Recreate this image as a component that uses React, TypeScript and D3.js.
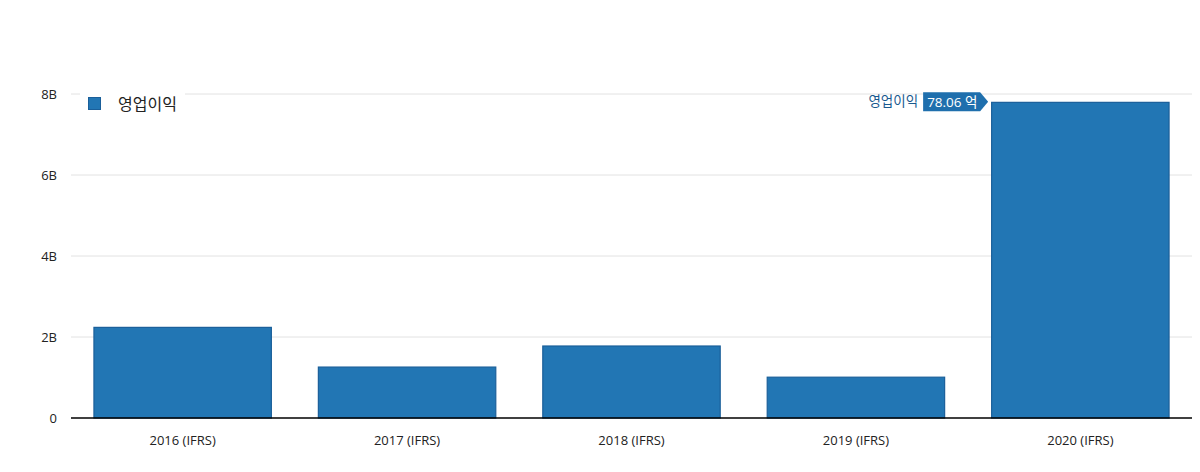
import React from "react";
import * as d3 from "d3";

const categories = ["2016 (IFRS)", "2017 (IFRS)", "2018 (IFRS)", "2019 (IFRS)", "2020 (IFRS)"];
const values = [2.25e9, 1.27e9, 1.79e9, 1.02e9, 7.806e9];
const yTicks = [0, 2e9, 4e9, 6e9, 8e9];
const yTickLabels = ["0", "2B", "4B", "6B", "8B"];
const seriesName = "영업이익";
const tooltipValue = "78.06 억";

const W = 1200, H = 472;
const m = { left: 71, right: 8, top: 94, bottom: 54 };
const font = "'Open Sans', 'Noto Sans CJK KR', sans-serif";

export default function App() {
  const x = d3.scaleBand<string>().domain(categories).range([m.left, W - m.right]).paddingInner(0.205).paddingOuter(0.1);
  const y = d3.scaleLinear().domain([0, 8e9]).range([H - m.bottom, m.top]);
  const last = categories.length - 1;
  const lx = x(categories[last])!;
  const ly = y(values[last]);
  return (
    <svg width={W} height={H} style={{ position: "absolute", left: 0, top: 0, background: "#fff" }}>
      {yTicks.map((t, i) => (
        <g key={t}>
          {t !== 0 && <line x1={m.left} x2={W - m.right} y1={y(t)} y2={y(t)} stroke="#e2e2e2" strokeWidth={1} />}
          <text x={57} y={y(t) + 4.5} textAnchor="end" fontFamily={font} fontSize={13} fill="#222">{yTickLabels[i]}</text>
        </g>
      ))}
      {/* legend */}
      <rect x={80} y={88} width={105} height={30} fill="#fff" />
      <rect x={88.5} y={97.5} width={12} height={12} fill="#2276b4" stroke="#1a5f9a" />
      <text x={118} y={109.5} fontFamily={font} fontSize={16} fill="#222">{seriesName}</text>
      {values.map((v, i) => (
        <rect key={i} x={x(categories[i])! + 0.5} y={y(v) + 0.5} width={x.bandwidth() - 1} height={y(0) - y(v) - 0.5}
          fill="#2276b4" stroke="#1a5f9a" strokeWidth={1.2} />
      ))}
      <line x1={m.left} x2={W - m.right} y1={y(0)} y2={y(0)} stroke="#000" strokeWidth={1.3} />
      {categories.map((c) => (
        <text key={c} x={x(c)! + x.bandwidth() / 2} y={445} textAnchor="middle" fontFamily={font} fontSize={13} fill="#222">{c}</text>
      ))}
      {/* tooltip label */}
      <g>
        <text x={lx - 73} y={ly + 4.5} textAnchor="end" fontFamily={font} fontSize={13.5} fill="#1a5a8f">{seriesName}</text>
        <path d={`M${lx - 68},${ly - 9.5} L${lx - 11},${ly - 9.5} L${lx - 3},${ly} L${lx - 11},${ly + 9.5} L${lx - 68},${ly + 9.5} Z`} fill="#1f6fad" />
        <text x={lx - 64} y={ly + 5} fontFamily={font} fontSize={13.5} fill="#fff">{tooltipValue}</text>
      </g>
    </svg>
  );
}
